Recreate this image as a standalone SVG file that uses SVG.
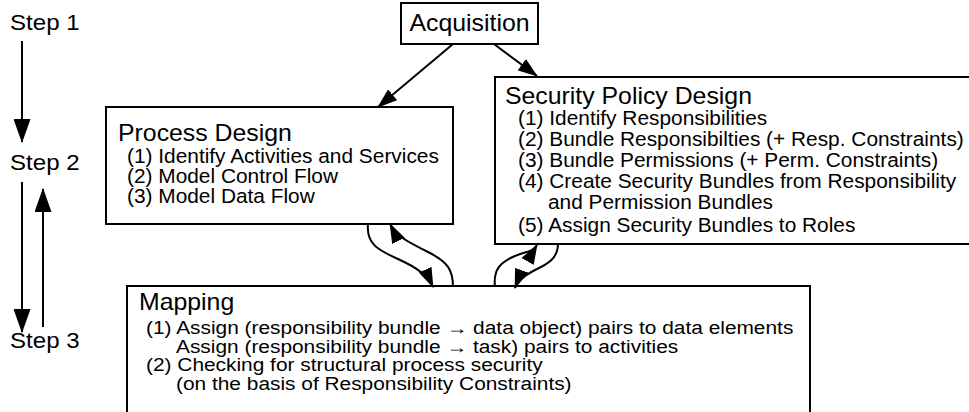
<svg xmlns="http://www.w3.org/2000/svg" width="969" height="412" viewBox="0 0 969 412">
<style>
text{font-family:"Liberation Sans",Arial,sans-serif;fill:#000}
.step{font-size:22.5px}
.title{font-size:23px}
.item{font-size:19.5px}
.mitem{font-size:18px}
.box{fill:#fff;stroke:#000;stroke-width:2}
.conn{fill:none;stroke:#000;stroke-width:2}
</style>
<defs>
<marker id="ah" viewBox="0 0 20 14" refX="19" refY="7" markerWidth="20" markerHeight="14" markerUnits="userSpaceOnUse" orient="auto"><path d="M0,0 L20,7 L0,14 z" fill="#000"/></marker>
<marker id="ahs" viewBox="0 0 24 17" refX="23" refY="8.5" markerWidth="24" markerHeight="17" markerUnits="userSpaceOnUse" orient="auto"><path d="M0,0 L24,8.5 L0,17 z" fill="#000"/></marker>
</defs>
<rect width="969" height="412" fill="#fff"/>
<g id="steps">
<text class="step" transform="translate(10,30) scale(1.07,1)">Step 1</text>
<text class="step" transform="translate(10,170) scale(1.07,1)">Step 2</text>
<text class="step" transform="translate(10,348) scale(1.07,1)">Step 3</text>
</g>
<g id="acquisition">
<rect class="box" x="401" y="3" width="137" height="41"/>
<text class="title" text-anchor="middle" transform="translate(469.5,31) scale(1.08,1)">Acquisition</text>
</g>
<g id="process-design">
<rect class="box" x="106" y="107" width="347" height="117"/>
<text class="title" transform="translate(118,141) scale(1.08,1)">Process Design</text>
<text class="item" transform="translate(127,163) scale(1.07,1)">(1) Identify Activities and Services</text>
<text class="item" transform="translate(127,183) scale(1.07,1)">(2) Model Control Flow</text>
<text class="item" transform="translate(127,203) scale(1.07,1)">(3) Model Data Flow</text>
</g>
<g id="security-policy-design">
<rect class="box" x="495" y="77" width="490" height="167"/>
<text class="title" transform="translate(505,104) scale(1.08,1)">Security Policy Design</text>
<text class="item" transform="translate(518,125) scale(1.07,1)">(1) Identify Responsibilities</text>
<text class="item" transform="translate(518,146) scale(1.07,1)">(2) Bundle Responsibilties (+ Resp. Constraints)</text>
<text class="item" transform="translate(518,167) scale(1.07,1)">(3) Bundle Permissions (+ Perm. Constraints)</text>
<text class="item" transform="translate(518,188) scale(1.07,1)">(4) Create Security Bundles from Responsibility</text>
<text class="item" transform="translate(548,209) scale(1.07,1)">and Permission Bundles</text>
<text class="item" transform="translate(518,232) scale(1.07,1)">(5) Assign Security Bundles to Roles</text>
</g>
<g id="mapping">
<rect class="box" x="127" y="286" width="683" height="140"/>
<text class="title" transform="translate(139,310) scale(1.08,1)">Mapping</text>
<text class="mitem" transform="translate(146,333.5) scale(1.16,1)">(1) Assign (responsibility bundle → data object) pairs to data elements</text>
<text class="mitem" transform="translate(176,352.5) scale(1.16,1)">Assign (responsibility bundle → task) pairs to activities</text>
<text class="mitem" transform="translate(146,371) scale(1.16,1)">(2) Checking for structural process security</text>
<text class="mitem" transform="translate(176,390) scale(1.16,1)">(on the basis of Responsibility Constraints)</text>
</g>
<g id="connectors">
<path class="conn" d="M22,41 L22,142" marker-end="url(#ahs)"/>
<path class="conn" d="M22,182 L22,332" marker-end="url(#ahs)"/>
<path class="conn" d="M43,327 L43,189" marker-end="url(#ahs)"/>
<path class="conn" d="M453,44 L378,107" marker-end="url(#ah)"/>
<path class="conn" d="M494,44 L537,76" marker-end="url(#ah)"/>
<path class="conn" d="M368,224 C366,244 378,250 398,259 C418,268 428,276 433,287" marker-end="url(#ah)"/>
<path class="conn" d="M453,287 C453,270 448,262 428,252 C408,242 396,236 390,224" marker-end="url(#ah)"/>
<path class="conn" d="M495,287 C493,270 500,262 515,256 C527,251 533,252 537,245" marker-end="url(#ah)"/>
<path class="conn" d="M558,244 C558,258 548,264 535,270 C524,276 518,280 515,288" marker-end="url(#ah)"/>
</g>
</svg>
